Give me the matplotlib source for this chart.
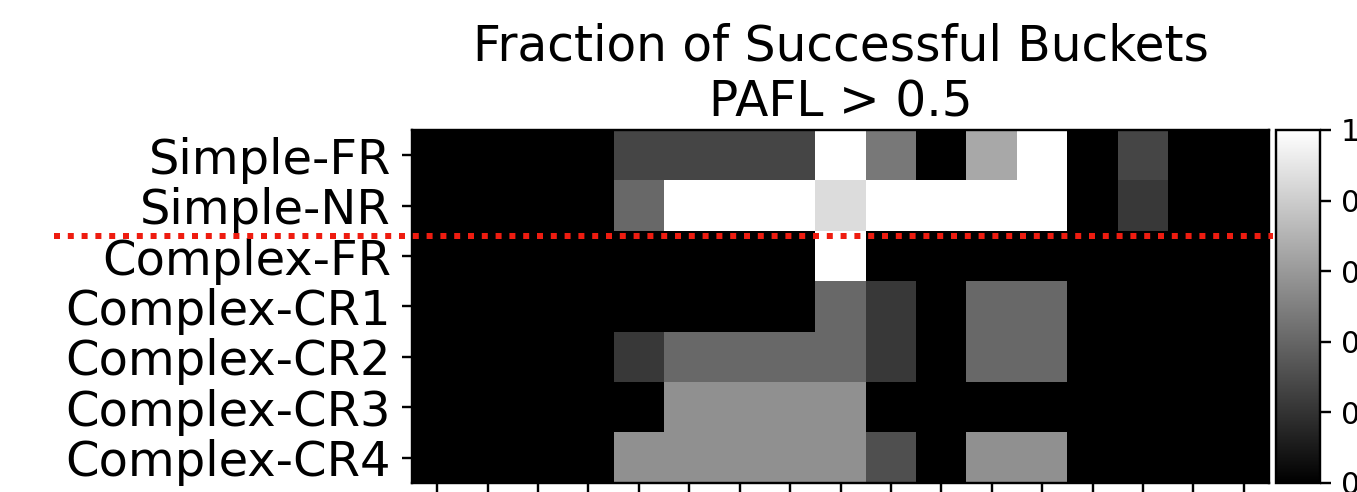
import matplotlib
matplotlib.use("Agg")
import matplotlib.pyplot as plt
import numpy as np

# Zeilen (Konfigurationen) und Werte je Bucket (17 Spalten)
rows = ["Simple-FR", "Simple-NR", "Complex-FR", "Complex-CR1",
        "Complex-CR2", "Complex-CR3", "Complex-CR4"]

simple_fr = [0, 0, 0, 0, 0.27, 0.27, 0.27, 0.27, 1.0, 0.47, 0, 0.66, 1.0, 0, 0.27, 0, 0]
simple_nr = [0, 0, 0, 0, 0.41, 1.0, 1.0, 1.0, 0.86, 1.0, 1.0, 1.0, 1.0, 0, 0.22, 0, 0]
complex_fr = [0, 0, 0, 0, 0, 0, 0, 0, 1.0, 0, 0, 0, 0, 0, 0, 0, 0]
complex_cr1 = [0, 0, 0, 0, 0, 0, 0, 0, 0.41, 0.22, 0, 0.41, 0.41, 0, 0, 0, 0]
complex_cr2 = [0, 0, 0, 0, 0.22, 0.41, 0.41, 0.41, 0.41, 0.22, 0, 0.41, 0.41, 0, 0, 0, 0]
complex_cr3 = [0, 0, 0, 0, 0, 0.565, 0.565, 0.565, 0.565, 0, 0, 0, 0, 0, 0, 0, 0]
complex_cr4 = [0, 0, 0, 0, 0.565, 0.565, 0.565, 0.565, 0.565, 0.31, 0, 0.565, 0.565, 0, 0, 0, 0]

data = np.array([simple_fr, simple_nr, complex_fr, complex_cr1,
                 complex_cr2, complex_cr3, complex_cr4])

fig = plt.figure(figsize=(1357 / 216, 492 / 216), dpi=216)
ax = fig.add_axes([412 / 1357, 9 / 492, 857 / 1357, 353 / 492])
cax = fig.add_axes([1276 / 1357, 9 / 492, 44 / 1357, 353 / 492])

im = ax.imshow(data, cmap="gray", vmin=0, vmax=1, aspect="auto",
               interpolation="nearest")
ax.set_yticks(range(len(rows)))
ax.set_yticklabels(rows, fontsize=16)
ax.set_xticks(range(data.shape[1]))
ax.set_xticklabels([""] * data.shape[1])
ax.set_title("Fraction of Successful Buckets\nPAFL > 0.5", fontsize=16.2, pad=4.5)

# Trennlinie zwischen Simple und Complex
ax.plot([-7.6, 16.58], [1.6, 1.6], color="#ee1c10", lw=2, dashes=(1, 1.3),
        clip_on=False, zorder=5)
ax.set_xlim(-0.5, data.shape[1] - 0.5)
ax.set_ylim(len(rows) - 0.5, -0.5)

fig.colorbar(im, cax=cax)

fig.savefig("out.png", dpi=216)
